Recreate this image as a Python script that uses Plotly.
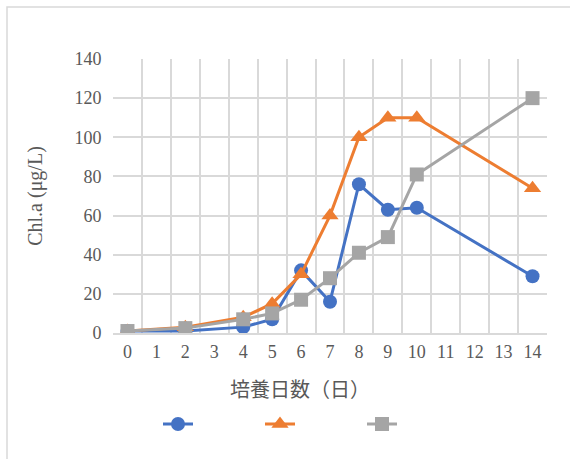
import plotly.graph_objects as go

# Culture day and Chl.a concentration (µg/L) for three cultures
days = [0, 2, 4, 5, 6, 7, 8, 9, 10, 14]
chl_blue = [1, 1, 3, 7, 32, 16, 76, 63, 64, 29]
chl_orange = [1, 3, 8, 15, 30, 60, 100, 110, 110, 74]
chl_gray = [1, 2.5, 7, 10, 17, 28, 41, 49, 81, 120]

x_ticks = list(range(0, 15))
y_ticks = list(range(0, 141, 20))

W, H = 570, 459
L, R, T, B = 113, 23, 59, 126
pw, ph = W - L - R, H - T - B

grid = "#d9d9d9"
text_col = "#595959"
serif = "Liberation Serif"

series = [
    (chl_blue, "#4472C4", "circle", "legend"),
    (chl_orange, "#ED7D31", "triangle-up", "legend2"),
    (chl_gray, "#A5A5A5", "square", "legend3"),
]

fig = go.Figure()
for vals, col, sym, lg in series:
    fig.add_trace(go.Scatter(
        x=days, y=vals, name="", mode="lines+markers",
        line=dict(color=col, width=3),
        marker=dict(color=col, symbol=sym, size=14 if sym != "triangle-up" else 15),
        showlegend=True, legend=lg,
    ))

# one legend box per series, laid out in a row under the axis title
legend_centres = [180, 282, 384]
legend_common = dict(y=(T + ph - 424) / ph, yanchor="middle", xanchor="left",
                     bgcolor="rgba(0,0,0,0)", font=dict(size=12), itemwidth=30)
legends = {}
for key, cx in zip(["legend", "legend2", "legend3"], legend_centres):
    legends[key] = dict(x=(cx - 22 - L) / pw, **legend_common)

fig.update_layout(
    width=W, height=H,
    margin=dict(l=L, r=R, t=T, b=B, autoexpand=False),
    paper_bgcolor="white", plot_bgcolor="white",
    xaxis=dict(
        range=[-0.5, 14.5], tickmode="array", tickvals=x_ticks,
        ticktext=[str(v) for v in x_ticks], showgrid=False, zeroline=False,
        showline=True, linecolor=grid, linewidth=1.5,
        ticks="outside", ticklen=2, tickcolor="rgba(0,0,0,0)",
        tickfont=dict(family=serif, size=18, color=text_col),
        minor=dict(tickmode="array", tickvals=[v - 0.5 for v in range(0, 16)],
                   showgrid=True, gridcolor=grid, gridwidth=1.5, ticks=""),
        fixedrange=True,
    ),
    yaxis=dict(
        range=[0, 140], tickmode="array", tickvals=y_ticks,
        showgrid=True, gridcolor=grid, gridwidth=1.5, zeroline=False,
        showline=False, ticks="outside", ticklen=7, tickcolor="rgba(0,0,0,0)",
        tickfont=dict(family=serif, size=18, color=text_col),
        title=dict(text="Chl.a (μg/L)",
                   font=dict(family=serif, size=20, color=text_col),
                   standoff=26),
    ),
    annotations=[
        dict(text="培養日数（日）", xref="paper", yref="paper",
             x=(300 - L) / pw, y=(T + ph - 388) / ph,
             xanchor="center", yanchor="middle", showarrow=False,
             font=dict(family="Noto Sans CJK JP", size=20, color=text_col)),
    ],
    shapes=[
        dict(type="rect", xref="paper", yref="paper",
             x0=(7 - L) / pw, x1=(W + 10 - L) / pw,
             y0=-(H + 10 - T - ph) / ph, y1=(T - 7 + ph) / ph,
             line=dict(color=grid, width=1.5), fillcolor="rgba(0,0,0,0)",
             layer="below"),
    ],
    **legends,
)

fig.write_html("out.html")
